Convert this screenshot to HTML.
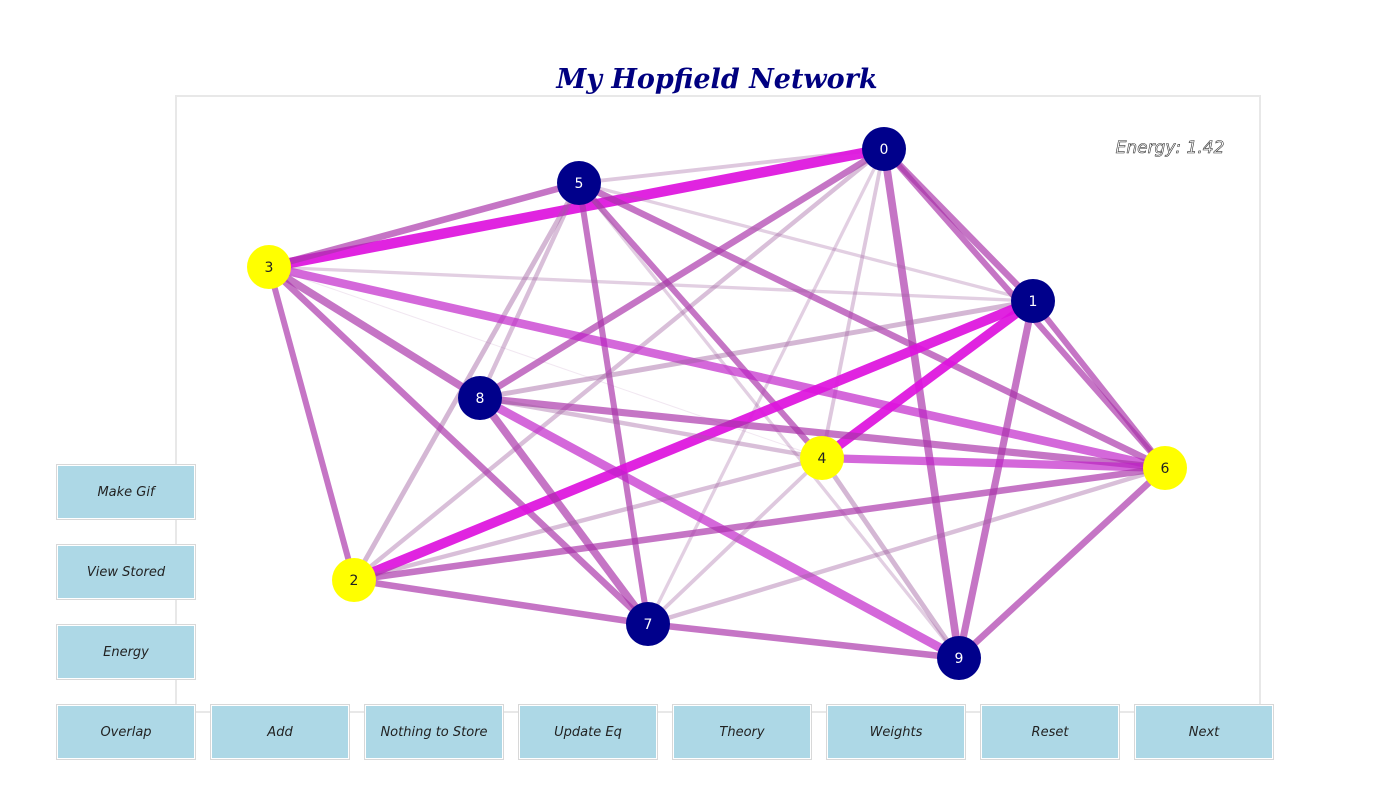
<!DOCTYPE html>
<html><head><meta charset="utf-8"><style>
body{margin:0;background:#fff;width:1400px;height:800px;overflow:hidden;font-family:"DejaVu Sans","Liberation Sans",sans-serif}
.btn{position:absolute;width:140px;height:56px;background:#add8e6;border:1px solid #d8d8d8;box-sizing:border-box;box-shadow:0 0 0 1px #fff inset;display:flex;align-items:center;justify-content:center;font-style:italic;font-size:13px;color:#222}
</style></head><body>
<svg width="1400" height="800" style="position:absolute;left:0;top:0">
<rect x="176" y="96" width="1084" height="616" fill="none" stroke="#e8e8e8" stroke-width="2"/>
<text x="717" y="88" text-anchor="middle" font-family="DejaVu Serif,Liberation Serif,serif" font-style="italic" font-weight="bold" font-size="27" fill="#000080">My Hopfield Network</text>
<text x="1170" y="153" text-anchor="middle" font-style="italic" font-size="17" fill="#fff" stroke="#333" stroke-width="0.6">Energy: 1.42</text>
<g id="edges"></g><g id="nodes"></g>
</svg>
<div class="btn" style="left:56px;top:464px">Make Gif</div>
<div class="btn" style="left:56px;top:544px">View Stored</div>
<div class="btn" style="left:56px;top:624px">Energy</div>
<div class="btn" style="left:56px;top:704px">Overlap</div>
<div class="btn" style="left:210px;top:704px">Add</div>
<div class="btn" style="left:364px;top:704px">Nothing to Store</div>
<div class="btn" style="left:518px;top:704px">Update Eq</div>
<div class="btn" style="left:672px;top:704px">Theory</div>
<div class="btn" style="left:826px;top:704px">Weights</div>
<div class="btn" style="left:980px;top:704px">Reset</div>
<div class="btn" style="left:1134px;top:704px">Next</div>
<script>
const nodeIds=[0,1,2,3,4,5,6,7,8,9];
const nodeX=[884,1033,354,269,822,579,1165,648,480,959];
const nodeY=[149,301,580,267,458,183,468,624,398,658];
const nodeState=[-1,-1,1,1,1,-1,1,-1,-1,-1];
const edgeFrom=[0,0,0,0,0,0,0,0,0, 5,5,5,5,5,5,5,5, 3,3,3,3,3,3, 1,1,1,1,1, 8,8,8,8, 4,4,4,4, 2,2, 7,7, 6];
const edgeTo=  [5,3,1,8,2,4,7,9,6, 3,1,6,4,8,2,7,9, 1,6,8,7,2,4, 8,6,9,2,4, 6,4,7,9, 6,2,9,7, 6,7, 9,6, 9];
const edgeWeight=[0.35,0.95,0.6,0.6,0.4,0.35,0.3,0.7,0.55, 0.6,0.3,0.6,0.55,0.4,0.45,0.55,0.3, 0.3,0.78,0.7,0.6,0.55,0.1, 0.45,0.55,0.65,0.9,0.85, 0.65,0.4,0.7,0.8, 0.75,0.4,0.45,0.35, 0.6,0.6, 0.6,0.4, 0.6];
const NS='http://www.w3.org/2000/svg';
const eg=document.getElementById('edges'),ng=document.getElementById('nodes');
for(let k=0;k<edgeFrom.length;k++){
 const a=edgeFrom[k],b=edgeTo[k],w=edgeWeight[k];
 const l=document.createElementNS(NS,'line');
 l.setAttribute('x1',nodeX[a]);l.setAttribute('y1',nodeY[a]);l.setAttribute('x2',nodeX[b]);l.setAttribute('y2',nodeY[b]);
 let col=w>=0.85?'#dd11dd':(w>=0.75?'#c020c8':(w>=0.5?'#aa33aa':'#a060a0'));
 l.setAttribute('stroke',col);
 l.setAttribute('stroke-opacity',w>=0.85?0.92:(w>=0.5?0.68:Math.max(0.15,w)));
 l.setAttribute('stroke-width',w<0.2?1:w*11);
 
 
 eg.appendChild(l);
}
for(let i=0;i<nodeIds.length;i++){
 const g=document.createElementNS(NS,'g');
 
 
 const c=document.createElementNS(NS,'circle');
 c.setAttribute('cx',nodeX[i]);c.setAttribute('cy',nodeY[i]);c.setAttribute('r',22);
 c.setAttribute('fill',nodeState[i]>0?'#ffff00':'#00008b');
 const t=document.createElementNS(NS,'text');
 t.setAttribute('x',nodeX[i]);t.setAttribute('y',nodeY[i]+5);t.setAttribute('text-anchor','middle');
 t.setAttribute('font-size','14');t.setAttribute('fill',nodeState[i]>0?'#222':'#fff');
 t.textContent=nodeIds[i];
 g.appendChild(c);g.appendChild(t);ng.appendChild(g);
}
</script>
</body></html>
